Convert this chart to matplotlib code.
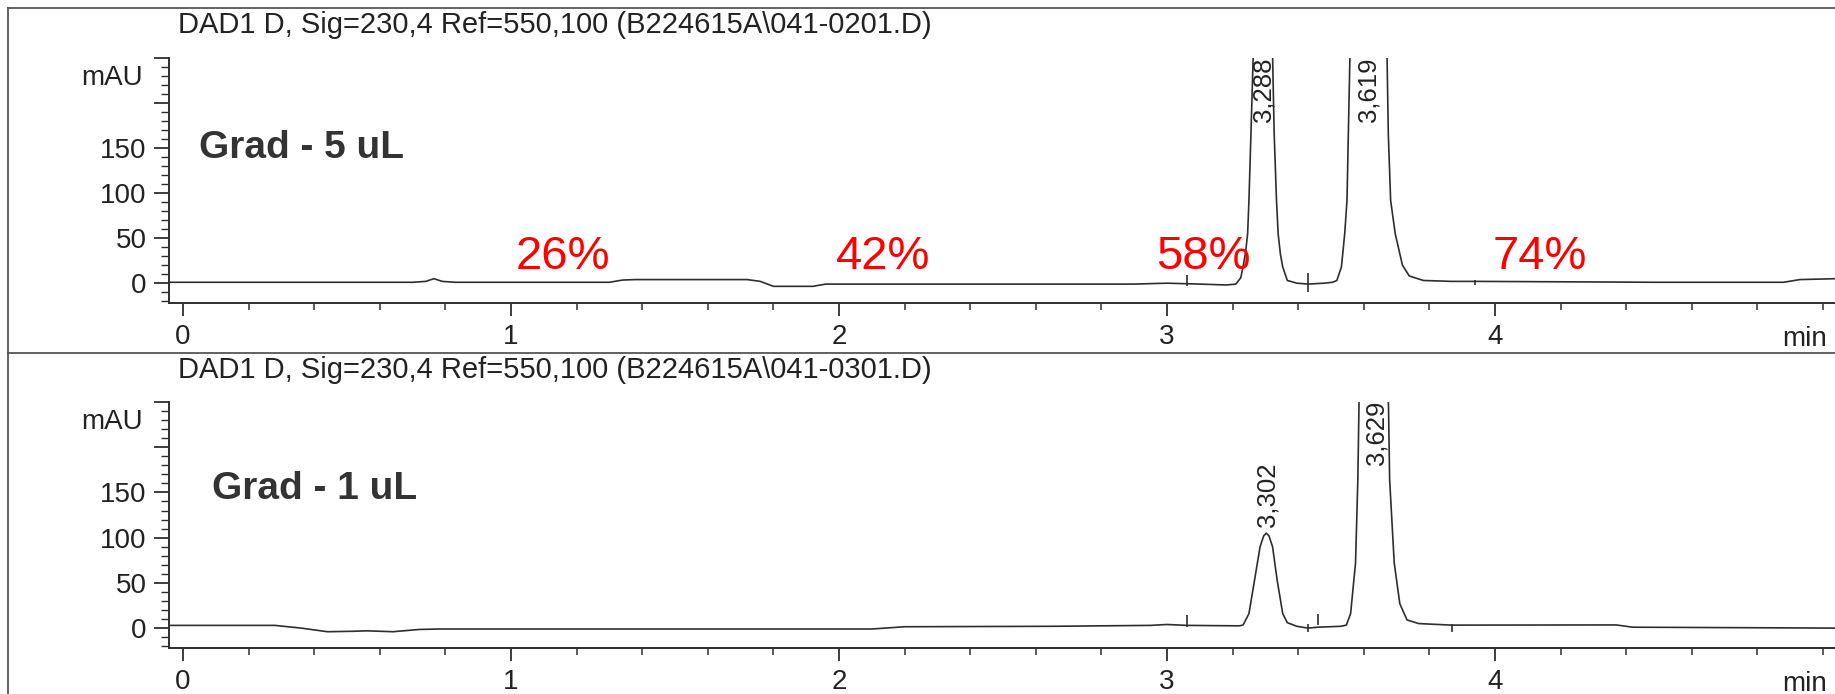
import matplotlib
matplotlib.use('Agg')
import matplotlib.pyplot as plt
from matplotlib.lines import Line2D
from matplotlib.ticker import MultipleLocator, FixedLocator

plt.rcParams['font.family'] = ['Liberation Sans', 'DejaVu Sans']

# --- data (time in min, signal in mAU) ---
titles = ['DAD1 D, Sig=230,4 Ref=550,100 (B224615A\\041-0201.D)',
          'DAD1 D, Sig=230,4 Ref=550,100 (B224615A\\041-0301.D)']
run_names = ['Grad - 5 uL', 'Grad - 1 uL']

t_5ul = [-0.04, 0.70, 0.74, 0.765, 0.79, 0.83, 1.30, 1.34, 1.38, 1.72, 1.76, 1.80,
         1.92, 1.96, 2.90, 3.00, 3.10, 3.18, 3.210, 3.225, 3.232, 3.240, 3.246, 3.250,
         3.256, 3.263, 3.290, 3.322, 3.327, 3.334, 3.339, 3.346, 3.353, 3.367, 3.396,
         3.43, 3.48, 3.505, 3.518, 3.532, 3.542, 3.549, 3.553, 3.558, 3.615, 3.671,
         3.675, 3.682, 3.696, 3.718, 3.739, 3.782, 3.868, 3.939, 4.5, 4.88, 4.93, 5.04]
mau_5ul = [1, 1, 2, 5, 2, 1, 1, 3.5, 4, 4, 2, -3.5,
           -3.5, -1, -1, 0, -1, -2, -1, 6, 18, 35, 55, 92,
           165, 253, 640, 253, 165, 92, 55, 32, 18, 3, 0,
           -1, 0, 1, 3, 18, 55, 92, 165, 253, 900, 253,
           165, 92, 55, 20, 8, 3, 2, 2, 1, 1, 4, 5]

t_1ul = [-0.04, 0.28, 0.36, 0.44, 0.52, 0.56, 0.64, 0.72, 0.78, 1.5, 2.1, 2.2,
         2.65, 2.95, 3.00, 3.06, 3.22, 3.232, 3.250, 3.267, 3.284, 3.295, 3.303,
         3.311, 3.322, 3.336, 3.353, 3.367, 3.396, 3.43, 3.46, 3.53, 3.547, 3.560,
         3.575, 3.582, 3.586, 3.630, 3.675, 3.679, 3.693, 3.710, 3.732, 3.768,
         3.868, 4.37, 4.42, 5.04]
mau_1ul = [3, 3, 0, -4, -3.5, -3, -4, -1.5, -1, -1, -1, 1.5,
           2, 3, 4, 3, 2.5, 3.3, 16, 53, 90, 102, 105,
           102, 90, 53, 16, 6, 2, 0, 1, 2, 3.3, 16,
           72, 164, 257, 420, 257, 164, 72, 27, 9, 5,
           3.3, 3.5, 1, 0]

# integration marks: time, low, high
marks_5ul_t = [3.06, 3.43, 3.94]
marks_5ul_lo = [-3, -10, -2]
marks_5ul_hi = [9, 11, 3]
marks_1ul_t = [3.06, 3.43, 3.46, 3.87]
marks_1ul_lo = [1.5, -4, 3, -4]
marks_1ul_hi = [15, 5, 16, 5]

peaks_5ul = ['3,288', '3,619']
peaks_5ul_t = [3.293, 3.616]
peaks_1ul = ['3,302', '3,629']
peaks_1ul_t = [3.308, 3.638]

gradient_labels = ['26%', '42%', '58%', '74%']
gradient_t = [1.015, 1.991, 2.966, 3.994]

# --- figure ---
W, H = 1835, 694
fig = plt.figure(figsize=(W / 100, H / 100), dpi=100)
ink = '#2e2e2e'

ax_top = fig.add_axes([169 / W, 1 - 303 / H, (W - 169) / W, 245 / H])
ax_bot = fig.add_axes([169 / W, 1 - 648 / H, (W - 169) / W, 246 / H])

panels = [
    (ax_top, t_5ul, mau_5ul, marks_5ul_t, marks_5ul_lo, marks_5ul_hi, peaks_5ul, peaks_5ul_t),
    (ax_bot, t_1ul, mau_1ul, marks_1ul_t, marks_1ul_lo, marks_1ul_hi, peaks_1ul, peaks_1ul_t),
]

for i, (ax, t, y, mt, mlo, mhi, pk, pkt) in enumerate(panels):
    ax.plot(t, y, color=ink, lw=1.2)
    ax.vlines(mt, mlo, mhi, color=ink, lw=1.2)
    ax.set_xlim(-0.043, 5.037)
    ax.set_ylim(-22, 250)
    for s in ['top', 'right']:
        ax.spines[s].set_visible(False)
    for s in ['left', 'bottom']:
        ax.spines[s].set_color(ink)
        ax.spines[s].set_linewidth(1.4)

    ax.xaxis.set_major_locator(FixedLocator([0, 1, 2, 3, 4]))
    ax.xaxis.set_minor_locator(MultipleLocator(0.2))
    ax.yaxis.set_major_locator(FixedLocator([0, 50, 100, 150, 200, 250]))
    ax.yaxis.set_minor_locator(MultipleLocator(10))
    ax.set_yticklabels(['0', '50', '100', '150', '', ''])
    ax.tick_params(axis='x', which='major', direction='out', length=9, width=1.3,
                   color=ink, labelsize=20, labelcolor='#222222', pad=6)
    ax.tick_params(axis='x', which='minor', direction='out', length=5, width=1.1, color=ink)
    ax.tick_params(axis='y', which='major', direction='out', length=11, width=1.3,
                   color=ink, labelsize=20, labelcolor='#222222', pad=5)
    ax.tick_params(axis='y', which='minor', direction='out', length=6, width=1.0, color=ink)

    ax.text(-0.122, 228, 'mAU', ha='right', va='center', fontsize=20,
            color='#222222', clip_on=False)
    ax.text(0.05 if i == 0 else 0.088, 150 if i == 0 else 154, run_names[i],
            fontsize=28, fontweight='bold', color='#333333', ha='left', va='center')

    for lab, x in zip(pk, pkt):
        if lab == '3,302':
            ax.text(x, 112, lab, rotation=90, ha='center', va='bottom',
                    fontsize=18.5, color='#222222')
        else:
            ax.text(x, 251, lab, rotation=90, ha='center', va='top',
                    fontsize=18.5, color='#222222')

for lab, x in zip(gradient_labels, gradient_t):
    ax_top.text(x, 16, lab, color='#ff0000', fontsize=34, ha='left', va='baseline')

# titles and axis unit
fig.text(178 / W, 1 - 25 / H, titles[0], fontsize=21, color='#222222', va='center')
fig.text(178 / W, 1 - 370 / H, titles[1], fontsize=21, color='#222222', va='center')
fig.text(1782 / W, 1 - 339 / H, 'min', fontsize=20, color='#222222', va='center')
fig.text(1782 / W, 1 - 684 / H, 'min', fontsize=20, color='#222222', va='center')

# report frame lines
fig.add_artist(Line2D([8 / W, 8 / W], [0, 1 - 8 / H], color='#555555', lw=1.3))
fig.add_artist(Line2D([8 / W, 1], [1 - 8 / H, 1 - 8 / H], color='#555555', lw=1.3))
fig.add_artist(Line2D([8 / W, 1], [1 - 353 / H, 1 - 353 / H], color='#555555', lw=1.3))

fig.savefig('out.png', dpi=100)
